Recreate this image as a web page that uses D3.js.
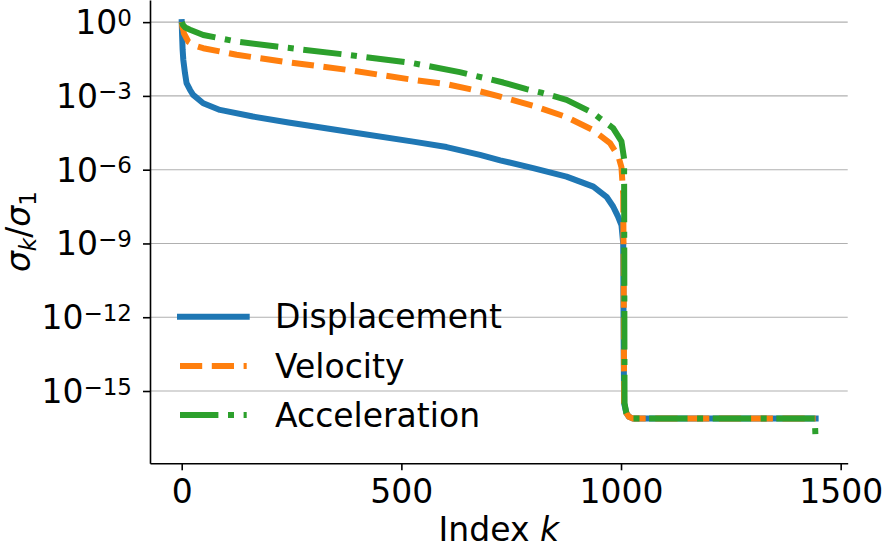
<!DOCTYPE html>
<html>
<head>
<meta charset="utf-8">
<script src="https://cdn.jsdelivr.net/npm/d3@7"></script>
<style>
  body { margin: 0; background: #fff; }
  svg { display: block; font-family: "DejaVu Sans", sans-serif; }
</style>
</head>
<body>
<div id="chart"></div>
<script>
// singular value ratios sigma_k / sigma_1 as [k, value]
const displacement = [
  [0, 1], [1, 2.5e-1], [2, 7.9e-2], [3.6, 2.95e-2], [7.5, 8.3e-3], [11, 3.3e-3], [19, 1.74e-3],
  [26, 1.1e-3], [49, 5.0e-4], [87, 2.69e-4], [162, 1.45e-4], [243, 8.3e-5], [376, 3.55e-5],
  [527, 1.38e-5], [603, 8.3e-6], [679, 4.0e-6], [725, 2.4e-6], [800, 1.15e-6], [876, 5.2e-7],
  [937, 2.04e-7], [967, 7.9e-8], [982, 3.2e-8], [993, 1.26e-8], [1001, 5.6e-9], [1005, 1.0e-9],
  [1006, 1e-13], [1007, 3.2e-16], [1012, 1.3e-16], [1018, 8.9e-17], [1027, 7.6e-17],
  [1200, 7.6e-17], [1443, 7.6e-17]
];
const velocity = [
  [0, 1], [2, 5.6e-1], [3.6, 4.9e-1], [5, 3.5e-1], [15, 1.6e-1], [30, 1.1e-1], [49, 8.7e-2],
  [125, 4.7e-2], [231, 2.5e-2], [376, 1.15e-2], [527, 4.5e-3], [603, 3.0e-3], [671, 1.66e-3],
  [725, 9.3e-4], [800, 4.0e-4], [876, 1.38e-4], [937, 4.0e-5], [975, 1.2e-5], [994, 3.5e-6],
  [1001, 1.26e-6], [1005, 1e-7], [1006, 1e-10], [1007, 3.2e-16], [1012, 1.3e-16],
  [1018, 8.9e-17], [1027, 7.6e-17], [1200, 7.6e-17], [1443, 7.6e-17]
];
const acceleration = [
  [0, 1], [3, 7.6e-1], [8, 6.0e-1], [19, 4.9e-1], [49, 3.0e-1], [125, 1.62e-1], [216, 1.02e-1],
  [376, 4.7e-2], [527, 2.14e-2], [633, 9.3e-3], [732, 3.5e-3], [785, 1.9e-3], [819, 1.35e-3],
  [876, 6.9e-4], [937, 2.0e-4], [952, 1.23e-4], [982, 4.9e-5], [1001, 1.41e-5], [1007, 2.8e-6],
  [1008, 3.2e-16], [1012, 1.3e-16], [1018, 8.9e-17], [1027, 7.6e-17], [1200, 7.6e-17],
  [1441, 7.6e-17], [1443, 1.0e-17]
];
const seriesNames = ['Displacement', 'Velocity', 'Acceleration'];
const xTicks = [0, 500, 1000, 1500];
const yTickExps = [0, -3, -6, -9, -12, -15];

const W = 886, H = 553, M = { t: 0, r: 38.3, b: 89.7, l: 150 };
const FS = 33, SUB = 23;
const colors = ['#1f77b4', '#ff7f0e', '#2ca02c'];
const LW = 6;
const dashes = [null, [3.7 * LW, 1.6 * LW], [6.4 * LW, 1.6 * LW, 1 * LW, 1.6 * LW]];

const svg = d3.select('#chart').append('svg').attr('width', W).attr('height', H);
const x = d3.scaleLinear().domain([-72.2, 1516]).range([M.l, W - M.r]);
const y = d3.scaleLog().domain([Math.pow(10, -17.94), Math.pow(10, 0.9)]).range([H - M.b, M.t]);

// horizontal grid
svg.append('g').selectAll('line').data(yTickExps).enter().append('line')
  .attr('x1', M.l).attr('x2', W - M.r)
  .attr('y1', d => y(Math.pow(10, d))).attr('y2', d => y(Math.pow(10, d)))
  .attr('stroke', '#b0b0b0').attr('stroke-width', 1.1);

// curves
svg.append('clipPath').attr('id', 'clip').append('rect')
  .attr('x', M.l).attr('y', M.t).attr('width', W - M.r - M.l).attr('height', H - M.b - M.t);
const line = d3.line().x(d => x(d[0])).y(d => y(d[1]));
const gLines = svg.append('g').attr('clip-path', 'url(#clip)').attr('fill', 'none');
[displacement, velocity, acceleration].forEach((data, i) => {
  gLines.append('path').attr('d', line(data))
    .attr('stroke', colors[i]).attr('stroke-width', LW)
    .attr('stroke-linejoin', 'round')
    .attr('stroke-linecap', i === 0 ? 'square' : 'butt')
    .attr('stroke-dasharray', dashes[i] ? dashes[i].join(' ') : null);
});

// x axis
const xAxis = svg.append('g').attr('transform', `translate(0,${H - M.b})`)
  .call(d3.axisBottom(x).tickValues(xTicks).tickFormat(d3.format('d')).tickSize(7).tickSizeOuter(0));
xAxis.select('.domain').attr('stroke', '#000').attr('stroke-width', 1.6);
xAxis.selectAll('.tick line').attr('stroke', '#000').attr('stroke-width', 1.6);
xAxis.selectAll('.tick text').attr('font-size', FS).attr('font-family', '"DejaVu Sans", sans-serif')
  .attr('fill', '#000').attr('dy', null).attr('y', 40);

// y axis
const yAxis = svg.append('g').attr('transform', `translate(${M.l},0)`)
  .call(d3.axisLeft(y).tickValues(yTickExps.map(e => Math.pow(10, e))).tickFormat(() => '')
    .tickSize(7).tickSizeOuter(0));
yAxis.select('.domain').attr('stroke', '#000').attr('stroke-width', 1.6);
yAxis.selectAll('.tick line').attr('stroke', '#000').attr('stroke-width', 1.6);
const yLab = svg.append('g').selectAll('text').data(yTickExps).enter().append('text')
  .attr('x', 132).attr('y', d => y(Math.pow(10, d)) + 12)
  .attr('text-anchor', 'end').attr('font-size', FS).attr('fill', '#000');
yLab.append('tspan').text('10');
yLab.append('tspan').attr('font-size', SUB).attr('dy', -8.5).text(d => d === 0 ? '0' : '\u2212' + (-d));

// axis labels
const yTitle = svg.append('text').attr('transform', `translate(30,${(M.t + H - M.b) / 2}) rotate(-90)`)
  .attr('text-anchor', 'middle').attr('font-size', FS).attr('fill', '#000');
yTitle.append('tspan').attr('font-style', 'italic').text('σ');
yTitle.append('tspan').attr('font-style', 'italic').attr('font-size', SUB).attr('dy', 6).text('k');
yTitle.append('tspan').attr('dy', -6).text('/');
yTitle.append('tspan').attr('font-style', 'italic').text('σ');
yTitle.append('tspan').attr('font-size', SUB).attr('dy', 6).text('1');

const xTitle = svg.append('text').attr('x', (M.l + W - M.r) / 2).attr('y', 541)
  .attr('text-anchor', 'middle').attr('font-size', FS).attr('fill', '#000');
xTitle.append('tspan').text('Index ');
xTitle.append('tspan').attr('font-style', 'italic').text('k');

// legend
const legY = [316.7, 366, 415];
const leg = svg.append('g');
seriesNames.forEach((name, i) => {
  leg.append('line').attr('x1', 180).attr('x2', 246.7).attr('y1', legY[i]).attr('y2', legY[i])
    .attr('stroke', colors[i]).attr('stroke-width', LW)
    .attr('stroke-linecap', i === 0 ? 'square' : 'butt')
    .attr('stroke-dasharray', dashes[i] ? dashes[i].join(' ') : null);
  leg.append('text').attr('x', 275).attr('y', legY[i] + 11.5).attr('font-size', FS).attr('fill', '#000').text(name);
});
</script>
</body>
</html>
